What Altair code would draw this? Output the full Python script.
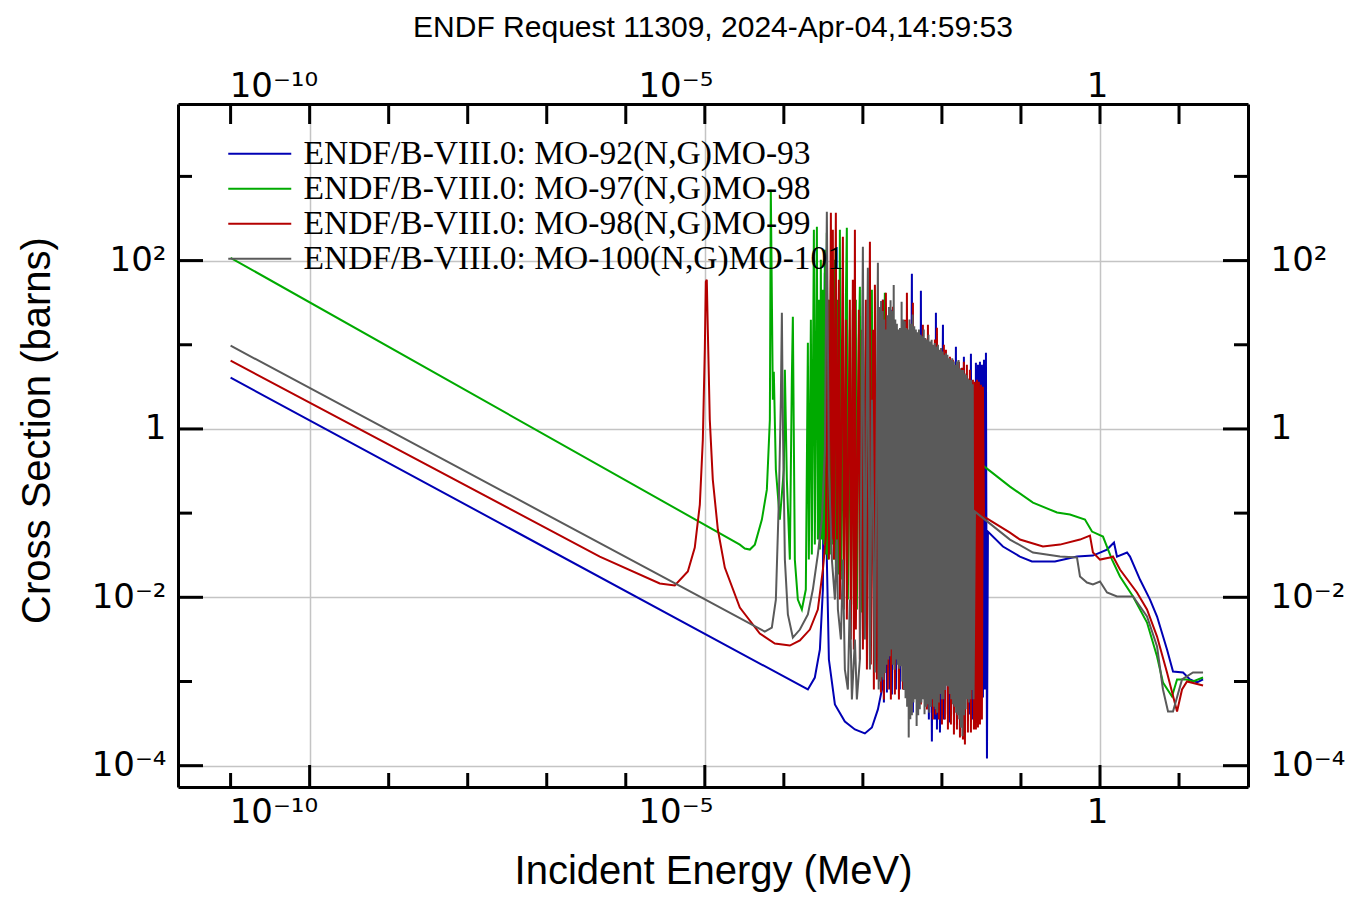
import altair as alt
import pandas as pd
import numpy as np

# ---------------- data (log10 energy [MeV], log10 cross section [b])
SERIES = [
    "ENDF/B-VIII.0: MO-92(N,G)MO-93",
    "ENDF/B-VIII.0: MO-97(N,G)MO-98",
    "ENDF/B-VIII.0: MO-98(N,G)MO-99",
    "ENDF/B-VIII.0: MO-100(N,G)MO-101",
]
COLORS = ["#0000b4", "#00aa00", "#b40000", "#5a5a5a"]

mo92 = [
    (-11.0, 0.609), (-3.696, -3.095), (-3.608, -2.953), (-3.544, -2.620), (-3.506, -1.908),
    (-3.494, 0.348), (-3.481, 1.855), (-3.468, 0.348), (-3.456, -1.552), (-3.430, -2.739),
    (-3.354, -3.273), (-3.228, -3.475), (-3.101, -3.570), (-2.975, -3.617), (-2.886, -3.546),
    (-2.810, -3.332), (-2.759, -3.095), (-2.747, 1.535), (-2.734, -3.249), (-2.709, 0.348),
    (-2.696, -3.130), (-2.671, 0.110), (-2.658, -3.095), (-2.646, 1.416), (-2.633, -3.154),
    (-2.608, 0.110), (-2.582, -3.095), (-2.557, 0.348), (-2.532, -3.095), (-2.506, 0.110),
    (-2.481, -3.071), (-2.456, 0.348), (-2.443, -3.059), (-2.418, 0.585), (-2.405, -3.214),
    (-2.380, 1.843), (-2.367, -3.368), (-2.342, 0.348), (-2.316, -3.095), (-2.291, 0.585),
    (-2.278, -2.893), (-2.266, 1.641), (-2.253, -3.095), (-2.228, 0.348), (-2.215, -3.214),
    (-2.190, 0.585), (-2.165, -3.451), (-2.152, 0.348), (-2.127, -3.712), (-2.101, 0.585),
    (-2.089, -3.451), (-2.076, 1.380), (-2.063, -3.570), (-2.038, 0.466), (-2.025, -3.606),
    (-1.987, 1.238), (-1.975, -3.451), (-1.949, 0.466), (-1.924, -3.392), (-1.911, 0.585),
    (-1.899, -3.487), (-1.873, 0.466), (-1.848, -3.392), (-1.823, 0.977), (-1.810, -3.511),
    (-1.785, 0.466), (-1.772, -3.570), (-1.747, 0.585), (-1.734, -3.392), (-1.722, 0.858),
    (-1.709, -3.511), (-1.684, 0.407), (-1.658, -3.392), (-1.633, 0.894), (-1.620, -3.451),
    (-1.595, 0.466), (-1.582, -3.332), (-1.570, 0.787), (-1.557, -3.273), (-1.544, 0.763),
    (-1.532, -3.214), (-1.519, 0.799), (-1.506, -3.214), (-1.494, 0.763), (-1.481, -3.190),
    (-1.468, 0.823), (-1.456, -3.095), (-1.443, 0.906), (-1.430, -3.914), (-1.418, -1.219),
    (-1.228, -1.397), (-1.013, -1.516), (-0.861, -1.575), (-0.570, -1.575), (-0.291, -1.516),
    (-0.089, -1.504), (0.089, -1.433), (0.177, -1.350), (0.215, -1.516), (0.342, -1.468),
    (0.380, -1.516), (0.506, -1.789), (0.633, -2.027), (0.722, -2.228), (0.848, -2.620),
    (0.924, -2.881), (1.051, -2.893), (1.139, -2.976), (1.228, -3.012), (1.304, -2.976),
]

mo97 = [
    (-11.0, 2.033), (-4.557, -1.374), (-4.494, -1.421), (-4.430, -1.433), (-4.367, -1.374),
    (-4.278, -1.077),
    (-4.215, -0.721), (-4.177, 0.110), (-4.165, 2.840), (-4.139, 0.348), (-4.127, 0.680),
    (-4.101, -0.483), (-4.051, -1.077), (-4.000, -0.483), (-3.987, 0.704), (-3.962, -0.602),
    (-3.924, -1.552), (-3.899, 0.585), (-3.886, 1.334), (-3.861, -1.552), (-3.823, -2.027),
    (-3.772, -2.145), (-3.722, -1.908), (-3.696, 1.024), (-3.684, -1.552), (-3.658, 1.298),
    (-3.646, -1.492), (-3.620, 2.365), (-3.608, -1.374), (-3.582, 2.401), (-3.570, -1.314),
    (-3.557, 1.535), (-3.544, -1.433), (-3.532, 2.009), (-3.519, -1.314), (-3.506, 1.653),
    (-3.494, -1.374), (-3.481, 2.128), (-3.468, -1.492), (-3.456, 2.330), (-3.443, -1.552),
    (-3.430, 1.535), (-3.418, -1.492), (-3.405, 1.772), (-3.392, -1.374), (-3.380, 1.298),
    (-3.367, -1.552), (-3.354, 2.009), (-3.342, -1.670), (-3.316, 1.535), (-3.304, -1.729),
    (-3.291, 2.365), (-3.278, -1.789), (-3.253, 0.942), (-3.241, -1.908), (-3.215, 1.535),
    (-3.203, 2.389), (-3.190, -2.027), (-3.165, 1.179), (-3.152, -2.027), (-3.127, 1.416),
    (-3.114, -2.086), (-3.089, 1.535), (-3.076, -2.145), (-3.051, 1.061), (-3.038, 1.690),
    (-3.025, -2.181), (-3.000, 1.653), (-2.987, -2.027), (-2.962, 0.942), (-2.949, -1.908),
    (-2.924, 1.298), (-2.911, -1.729), (-2.886, 1.653), (-2.873, -1.552), (-2.848, 0.823),
    (-2.835, -1.374), (-2.797, 1.179), (-2.785, -1.077), (-2.759, 1.380), (-2.747, -0.483),
    (-2.722, 1.618), (-2.696, 0.348), (-2.658, 0.170), (-2.468, 0.098), (-1.494, -0.424),
    (-1.139, -0.685), (-0.848, -0.875), (-0.544, -0.993), (-0.380, -1.017), (-0.190, -1.077),
    (-0.101, -1.219), (0.038, -1.278), (0.152, -1.552), (0.253, -1.753), (0.418, -1.991),
    (0.595, -2.300), (0.722, -2.703), (0.797, -3.012), (0.911, -3.178), (0.975, -2.976),
    (1.101, -2.976), (1.177, -3.000), (1.304, -2.953),
]

mo98 = [
    (-11.0, 0.811), (-6.329, -1.516), (-5.570, -1.836), (-5.380, -1.860), (-5.215, -1.694),
    (-5.127, -1.409), (-5.063, -0.899), (-5.025, -0.127), (-5.000, 0.942), (-4.987, 1.748),
    (-4.975, 1.772), (-4.962, 1.179), (-4.937, 0.110), (-4.899, -0.602), (-4.835, -1.195),
    (-4.747, -1.647), (-4.557, -2.121), (-4.304, -2.430), (-4.114, -2.549), (-3.924, -2.573),
    (-3.797, -2.513), (-3.671, -2.383), (-3.570, -2.145), (-3.506, -1.670), (-3.468, -1.278),
    (-3.443, 1.535), (-3.430, -1.552), (-3.405, 2.567), (-3.392, -1.314), (-3.380, 2.365),
    (-3.367, -1.552), (-3.342, 2.567), (-3.329, -1.789), (-3.304, 1.772), (-3.291, -2.027),
    (-3.253, 2.282), (-3.241, -2.145), (-3.215, 1.298), (-3.203, -2.264), (-3.165, 1.535),
    (-3.152, -2.501), (-3.127, 1.772), (-3.114, -2.620), (-3.101, 2.365), (-3.089, -2.383),
    (-3.051, 1.416), (-3.038, -2.739), (-3.013, 1.179), (-3.000, -2.620), (-2.962, 1.535),
    (-2.949, -2.858), (-2.911, 2.223), (-2.899, -2.798), (-2.873, 1.179), (-2.861, -3.095),
    (-2.848, 1.713), (-2.823, -2.976), (-2.797, 1.298), (-2.772, -3.130), (-2.747, 1.535),
    (-2.734, -3.214), (-2.709, 1.618), (-2.684, -3.095), (-2.658, 1.179), (-2.646, -3.214),
    (-2.620, 1.452), (-2.595, -3.154), (-2.570, 1.061), (-2.544, -3.214), (-2.519, 1.179),
    (-2.494, -3.095), (-2.468, 1.298), (-2.456, -2.976), (-2.443, 1.618), (-2.418, -3.214),
    (-2.392, 1.179), (-2.380, -3.332), (-2.367, 1.500), (-2.342, -3.095), (-2.316, 1.061),
    (-2.304, -3.214), (-2.278, 1.120), (-2.266, -3.273), (-2.241, 1.238), (-2.215, -3.214),
    (-2.203, 1.061), (-2.190, -3.332), (-2.177, 1.238), (-2.152, -3.297), (-2.127, 1.001),
    (-2.114, -3.451), (-2.089, 1.061), (-2.076, -3.392), (-2.063, 1.202), (-2.038, -3.451),
    (-2.013, 0.942), (-2.000, -3.511), (-1.975, 1.001), (-1.962, -3.451), (-1.949, 0.942),
    (-1.924, -3.570), (-1.899, 0.858), (-1.886, -3.511), (-1.861, 0.823), (-1.848, -3.629),
    (-1.823, 0.763), (-1.810, -3.570), (-1.785, 0.799), (-1.772, -3.665), (-1.747, 0.728),
    (-1.734, -3.689), (-1.722, 0.799), (-1.709, -3.748), (-1.684, 0.763), (-1.671, -3.606),
    (-1.646, 0.704), (-1.633, -3.606), (-1.608, 0.585), (-1.595, -3.570), (-1.582, 0.561),
    (-1.570, -3.570), (-1.557, 0.585), (-1.544, -3.546), (-1.532, 0.561), (-1.519, -3.511),
    (-1.506, 0.526), (-1.494, -3.451), (-1.481, 0.502), (-1.468, -1.041), (-1.139, -1.231),
    (-1.013, -1.314), (-0.722, -1.397), (-0.506, -1.374), (-0.253, -1.314), (-0.127, -1.267),
    (-0.089, -1.468), (0.000, -1.552), (0.127, -1.528), (0.165, -1.516), (0.253, -1.670),
    (0.468, -1.943), (0.595, -2.145), (0.722, -2.466), (0.848, -2.893), (0.975, -3.356),
    (1.038, -3.095), (1.101, -3.000), (1.304, -3.047),
]

mo100 = [
    (-11.0, 0.989), (-5.063, -1.991), (-4.241, -2.407), (-4.152, -2.359), (-4.101, -2.027),
    (-4.063, -0.840), (-4.038, 0.348), (-4.025, 1.380), (-4.013, 0.110), (-3.987, -1.552),
    (-3.949, -2.204), (-3.886, -2.478), (-3.797, -2.383), (-3.696, -2.204), (-3.633, -1.908),
    (-3.570, -1.492), (-3.519, -1.077), (-3.481, -0.246), (-3.456, 2.579), (-3.430, -0.483),
    (-3.392, -1.552), (-3.354, -2.027), (-3.329, -1.314), (-3.316, -2.145), (-3.278, -2.501),
    (-3.253, -1.552), (-3.228, -2.858), (-3.190, -3.095), (-3.165, -2.027), (-3.139, -3.214),
    (-3.101, -2.501), (-3.076, -3.214), (-3.038, -2.739), (-3.000, 2.164), (-2.975, -2.501),
    (-2.937, 1.914), (-2.911, -2.858), (-2.886, 0.348), (-2.848, -2.893), (-2.810, 1.974),
    (-2.800, -3.095), (-2.790, 1.45), (-2.780, -3.00), (-2.770, 1.52), (-2.760, -2.95),
    (-2.750, 1.40), (-2.740, -2.98), (-2.730, 1.30), (-2.720, -2.90), (-2.710, 1.18),
    (-2.700, -2.80), (-2.690, 1.35), (-2.680, -2.74), (-2.670, 1.45), (-2.660, -2.70),
    (-2.650, 1.53), (-2.640, -2.62), (-2.630, 1.40), (-2.620, -2.80), (-2.610, 1.71),
    (-2.600, -2.86), (-2.590, 1.30), (-2.580, -2.74), (-2.570, 1.25), (-2.560, -2.80),
    (-2.550, 1.18), (-2.540, -2.85), (-2.530, 1.20), (-2.520, -2.82), (-2.510, 1.51),
    (-2.500, -3.00), (-2.490, 1.30), (-2.480, -3.10), (-2.470, 1.28), (-2.460, -3.20),
    (-2.450, 1.20), (-2.440, -3.30), (-2.430, 1.18), (-2.420, -3.665), (-2.410, 1.30),
    (-2.400, -3.45), (-2.390, 1.25), (-2.380, -3.40), (-2.370, 1.36), (-2.360, -3.25),
    (-2.350, 1.22), (-2.340, -3.21), (-2.330, 1.18), (-2.320, -3.53), (-2.310, 1.15),
    (-2.300, -3.40), (-2.290, 1.18), (-2.280, -3.33), (-2.270, 1.12), (-2.260, -3.25),
    (-2.250, 1.10), (-2.240, -3.21), (-2.230, 1.18), (-2.220, -3.39), (-2.210, 1.08),
    (-2.200, -3.30), (-2.190, 1.06), (-2.180, -3.27), (-2.170, 1.12), (-2.160, -3.37),
    (-2.150, 1.04), (-2.140, -3.30), (-2.130, 1.06), (-2.120, -3.21), (-2.110, 1.00),
    (-2.100, -3.30), (-2.090, 1.02), (-2.080, -3.33), (-2.070, 0.98), (-2.060, -3.37),
    (-2.050, 1.00), (-2.040, -3.25), (-2.030, 0.94), (-2.020, -3.15), (-2.010, 0.96),
    (-2.000, -3.21), (-1.990, 0.92), (-1.980, -3.21), (-1.970, 0.88), (-1.960, -3.10),
    (-1.950, 0.90), (-1.940, -3.05), (-1.930, 0.88), (-1.920, -3.06), (-1.910, 0.84),
    (-1.900, -3.15), (-1.890, 0.82), (-1.880, -3.21), (-1.870, 0.84), (-1.860, -3.27),
    (-1.850, 0.80), (-1.840, -3.30), (-1.830, 0.76), (-1.820, -3.37), (-1.810, 0.80),
    (-1.800, -3.40), (-1.790, 0.82), (-1.780, -3.45), (-1.770, 0.72), (-1.760, -3.55),
    (-1.750, 0.70), (-1.740, -3.65), (-1.730, 0.70), (-1.720, -3.40), (-1.710, 0.66),
    (-1.700, -3.33), (-1.690, 0.64), (-1.680, -3.21), (-1.670, 0.60), (-1.660, -3.25),
    (-1.650, 0.58), (-1.640, -3.21), (-1.630, 0.58), (-1.620, -3.10), (-1.610, 0.53),
    (-1.600, -3.21), (-1.582, -0.982),
    (-1.139, -1.314), (-0.848, -1.468), (-0.506, -1.516), (-0.291, -1.528), (-0.253, -1.753),
    (-0.165, -1.824), (-0.089, -1.848), (0.000, -1.812), (0.089, -1.943), (0.215, -1.991),
    (0.418, -1.991), (0.595, -2.228), (0.722, -2.585), (0.797, -3.095), (0.861, -3.356),
    (0.924, -3.356), (1.038, -2.976), (1.177, -2.893), (1.304, -2.893),
]

# axis ticks and labels
X_MAJOR = [1e-10, 1e-5, 1.0]
X_LABELS = ["10⁻¹⁰", "10⁻⁵", "1"]
X_MINOR = [1e-11, 1e-9, 1e-8, 1e-7, 1e-6, 1e-4, 1e-3, 1e-2, 1e-1, 1e1]
Y_MAJOR = [1e-4, 1e-2, 1.0, 1e2]
Y_LABELS = ["10⁻⁴", "10⁻²", "1", "10²"]
Y_MINOR = [1e-3, 1e-1, 1e1, 1e3]
X_DOMAIN = [2.16e-12, 74.6]
Y_DOMAIN = [5.58e-5, 7244.0]

TITLE = "ENDF Request 11309, 2024-Apr-04,14:59:53"
X_TITLE = "Incident Energy (MeV)"
Y_TITLE = "Cross Section (barns)"

W, H = 1070, 683
SANS = "Liberation Sans"
TICKFONT = "DejaVu Sans"
SERIF = "Liberation Serif"
LW = 2.0


def label_expr(vals, labels):
    expr = "''"
    for v, l in zip(vals, labels):
        expr = f"abs(log(datum.value)/LN10 - ({np.log10(v):.3f})) < 0.01 ? '{l}' : " + expr
    return expr


def frame(name, pts):
    return pd.DataFrame({
        "series": name,
        "energy": [10 ** p[0] for p in pts],
        "xs": [10 ** p[1] for p in pts],
        "ord": list(range(len(pts))),
    })


xscale = alt.Scale(type="log", domain=X_DOMAIN, nice=False)
yscale = alt.Scale(type="log", domain=Y_DOMAIN, nice=False)
cscale = alt.Scale(domain=SERIES, range=COLORS)

legend = alt.Legend(
    orient="none", legendX=65, legendY=33, title=None,
    symbolType="M-3,0H3", symbolSize=441, symbolStrokeWidth=2,
    labelFont=SERIF, labelFontSize=33.5, labelColor="black", labelLimit=0,
    labelOffset=27, rowPadding=0, padding=0,
)

DOM = dict(domain=True, domainColor="black", domainWidth=3)

x_axis_bottom = alt.Axis(
    orient="bottom", values=X_MAJOR, labelExpr=label_expr(X_MAJOR, X_LABELS),
    grid=True, gridColor="#c4c4c4", gridWidth=1.5, ticks=False, **DOM,
    labelFont=TICKFONT, labelFontSize=34, labelColor="black", labelAlign="right",
    labelOffset=8, labelPadding=8, labelFlush=False,
    title=X_TITLE, titleFont=SANS, titleFontSize=40, titleFontWeight="normal",
    titleColor="black", titlePadding=22,
)
y_axis_left = alt.Axis(
    orient="left", values=Y_MAJOR, labelExpr=label_expr(Y_MAJOR, Y_LABELS),
    grid=True, gridColor="#c4c4c4", gridWidth=1.5, ticks=False, **DOM,
    labelFont=TICKFONT, labelFontSize=34, labelColor="black", labelPadding=12,
    labelFlush=False,
    title=Y_TITLE, titleFont=SANS, titleFontSize=40, titleFontWeight="normal",
    titleColor="black", titlePadding=34, titleY=326,
)

layers = []
for i, (name, pts) in enumerate(zip(SERIES, [mo92, mo97, mo98, mo100])):
    df = frame(name, pts)
    layers.append(
        alt.Chart(df).mark_line(strokeWidth=LW, clip=True).encode(
            x=alt.X("energy:Q", scale=xscale, axis=x_axis_bottom if i == 0 else None),
            y=alt.Y("xs:Q", scale=yscale, axis=y_axis_left if i == 0 else None),
            color=alt.Color("series:N", scale=cscale, legend=legend),
            order=alt.Order("ord:Q"),
        )
    )

# top axis (labels) + top ticks
top_df = pd.DataFrame({"v": X_MAJOR + X_MINOR})
top = alt.Chart(top_df).mark_rule(color="black", strokeWidth=3).encode(
    x=alt.X("v:Q", scale=xscale, axis=alt.Axis(
        orient="top", values=X_MAJOR, labelExpr=label_expr(X_MAJOR, X_LABELS),
        grid=False, ticks=False, **DOM, labelFont=TICKFONT, labelFontSize=34,
        labelColor="black", labelAlign="right", labelOffset=8, labelPadding=1,
        labelFlush=False, title=None)),
    y=alt.value(0), y2=alt.value(20),
)

# right axis (labels) + right ticks
right_major = alt.Chart(pd.DataFrame({"v": Y_MAJOR})).mark_rule(color="black", strokeWidth=3).encode(
    y=alt.Y("v:Q", scale=yscale, axis=alt.Axis(
        orient="right", values=Y_MAJOR, labelExpr=label_expr(Y_MAJOR, Y_LABELS),
        grid=False, ticks=False, **DOM, labelFont=TICKFONT, labelFontSize=34,
        labelColor="black", labelPadding=22, labelFlush=False, title=None)),
    x=alt.value(W), x2=alt.value(W - 25),
)
right_minor = alt.Chart(pd.DataFrame({"v": Y_MINOR})).mark_rule(color="black", strokeWidth=3).encode(
    y=alt.Y("v:Q", scale=yscale, axis=None), x=alt.value(W), x2=alt.value(W - 14),
)
left_major = alt.Chart(pd.DataFrame({"v": Y_MAJOR})).mark_rule(color="black", strokeWidth=3).encode(
    y=alt.Y("v:Q", scale=yscale, axis=None), x=alt.value(0), x2=alt.value(25),
)
left_minor = alt.Chart(pd.DataFrame({"v": Y_MINOR})).mark_rule(color="black", strokeWidth=3).encode(
    y=alt.Y("v:Q", scale=yscale, axis=None), x=alt.value(0), x2=alt.value(14),
)
bottom_major = alt.Chart(pd.DataFrame({"v": X_MAJOR})).mark_rule(color="black", strokeWidth=3).encode(
    x=alt.X("v:Q", scale=xscale, axis=None), y=alt.value(H), y2=alt.value(H - 22),
)
bottom_minor = alt.Chart(pd.DataFrame({"v": X_MINOR})).mark_rule(color="black", strokeWidth=3).encode(
    x=alt.X("v:Q", scale=xscale, axis=None), y=alt.value(H), y2=alt.value(H - 14),
)

chart = alt.layer(
    *layers, top, right_major, right_minor, left_major, left_minor, bottom_major, bottom_minor
).resolve_axis(x="independent", y="independent").properties(
    width=W, height=H,
    title=alt.TitleParams(TITLE, font=SANS, fontSize=30, fontWeight="normal",
                          color="black", anchor="middle", offset=26),
    autosize=alt.AutoSizeParams(type="none"),
    padding={"left": 178, "top": 104, "right": 102, "bottom": 112},
).configure_view(stroke=None).configure(background="white")

chart.save("out.html", embed_options={"renderer": "svg", "actions": False})
